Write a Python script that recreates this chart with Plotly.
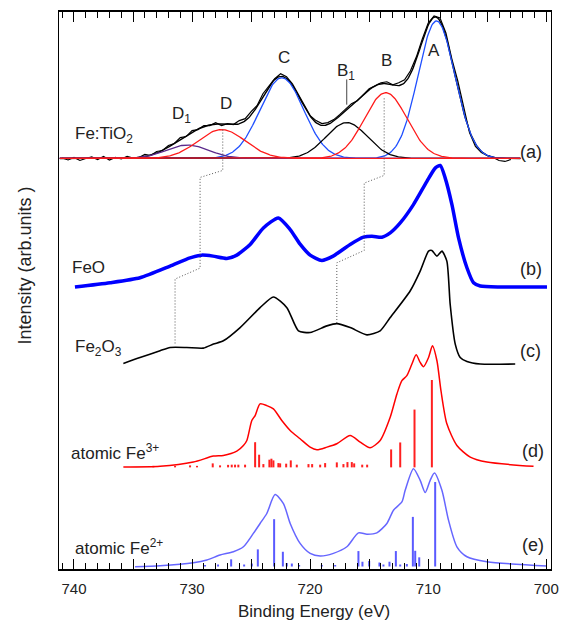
import numpy as np
import plotly.graph_objects as go

# ---------------- data (binding energy in eV, intensity in arb. units) ----------------
# (a) Fe:TiO2 experimental spectrum (baseline-subtracted height), offset below
a_offset = 412
a_E = [741.0, 740.5, 740.0, 739.5, 739.0, 738.5, 738.0, 737.5, 737.0, 736.5, 736.0, 735.5,
       735.0, 734.5, 734.0, 733.5, 733.0, 732.5, 732.0, 731.5, 731.0, 730.5, 730.0, 729.5,
       729.0, 728.5, 728.0, 727.5, 727.0, 726.5, 726.0, 725.5, 725.0, 724.5, 724.0, 723.5,
       723.0, 722.5, 722.0, 721.5, 721.0, 720.5, 720.0, 719.5, 719.0, 718.5, 718.0, 717.5,
       717.0, 716.5, 716.0, 715.5, 715.0, 714.5, 714.0, 713.5, 713.0, 712.5, 712.0, 711.5,
       711.0, 710.5, 710.0, 709.5, 709.0, 708.5, 708.0, 707.5, 707.0, 706.5, 706.0, 705.5,
       705.0, 704.5, 704.0, 703.5, 703.0]
a_I = [0.5, -1.5, 1, -2, 0, 1.5, -1, 2, -1.5, 1, -0.5, 2,
       0.5, 1, 4, 3, 7, 8, 13, 15, 21, 22, 28, 29,
       33, 33, 36, 33, 35, 34, 38, 40, 47, 53, 65, 72,
       80, 85, 82, 75, 64, 54, 43, 38, 35, 36, 39, 44,
       50, 55, 58, 64, 70, 73, 76, 77, 74, 76, 79, 88,
       102, 120, 136, 143, 141, 126, 100, 78, 52, 26, 12, 6,
       3, 1, -2, -3, -1]

# (a) fitted components
comp_names = ["A", "C", "B1", "D1", "B", "D"]
comp_center = [709.3, 722.4, 716.9, 730.4, 713.6, 727.5]
comp_height = [138, 81, 36, 13.5, 66, 29]
comp_sigma = [1.56, 1.85, 1.75, 1.8, 1.8, 2.0]
comp_color = ["#1f4fff", "#1f4fff", "#000000", "#5b2a8c", "#ff1a1a", "#ff1a1a"]
comp_range = (741.2, 702.2)

# (b) FeO
feo_E = [739.92, 736.95, 734.41, 731.86, 730.17, 729.18, 728.22, 727.06, 726.21, 725.08,
         723.96, 722.69, 721.69, 720.85, 720.0, 719.01, 718.05, 716.61, 715.48, 714.77,
         713.92, 713.22, 712.37, 711.25, 710.11, 709.41, 708.98, 708.56, 707.99, 707.43,
         706.72, 706.16, 705.59, 703.90, 699.94]
feo_I = [283, 287.3, 292.3, 304, 312.3, 315, 314, 311.7, 315, 325.7,
         342.3, 352.3, 340.7, 326, 315, 309.7, 314, 325.7, 333, 334,
         333, 337.3, 347.3, 365.7, 389, 402.3, 405, 392.3, 365.7, 332.3,
         302.3, 287.3, 284, 283, 283]

# (c) Fe2O3
fe2o3_E = [735.82, 734.41, 732.71, 731.86, 730.45, 729.04, 728.19, 727.35, 725.93, 724.24,
           723.11, 721.97, 720.99, 720.0, 718.58, 717.74, 716.61, 715.19, 714.07, 713.22,
           711.53, 710.68, 709.97, 709.69, 709.26, 708.84, 708.42, 708.14, 707.71, 707.29,
           706.72, 705.59, 702.63]
fe2o3_I = [206.3, 212.3, 219, 222.3, 222.3, 221.7, 225.7, 229, 242.3, 262.3,
           273, 262.3, 239, 237.3, 244, 246.3, 242.3, 235, 239, 252.3,
           279, 299, 319, 319.7, 314, 319, 309, 265.7, 225.7, 212.3,
           208.3, 205.7, 205.7]

# (d) atomic Fe3+ calculated spectrum
fe3_E = [735.82, 732.71, 729.89, 728.19, 727.35, 726.21, 725.65, 725.36, 724.94, 724.66,
         724.24, 723.67, 723.11, 722.40, 721.69, 720.85, 720.0, 719.43, 718.58, 717.74,
         716.61, 715.76, 714.92, 714.07, 713.22, 712.65, 712.23, 711.81, 711.38, 711.02,
         710.68, 710.40, 709.97, 709.64, 709.26, 708.92, 708.42, 707.57, 706.44, 705.03,
         701.08]
fe3_I = [102.3, 103, 107.3, 113.3, 114, 118.3, 124, 129, 149, 154,
         165.7, 164, 160.7, 149, 139, 130.7, 122.3, 119.7, 122.3, 125.7,
         134, 127.3, 121.7, 129, 152.3, 175.7, 189, 194, 205.7, 215,
         207.3, 203, 212.3, 224, 209, 179, 145.7, 124, 112.3, 107.3,
         103]
fe3_stick_base = 102
fe3_stick_E = [724.66, 724.32, 723.45, 723.28, 723.11, 722.69, 722.03, 721.64, 718.73, 716.84,
               716.47, 713.14, 712.37, 711.16, 709.69,
               733.28, 731.44, 730.17, 729.58, 728.25, 727.63, 726.95, 726.64, 726.36, 726.08,
               725.51, 723.96, 722.54, 721.13, 720.14, 719.83, 719.15, 717.74, 717.18, 716.27,
               715.59, 715.17]
fe3_stick_h = [25.3, 12.7, 7.7, 8.7, 7, 4.3, 3.7, 7, 4.3, 5.3,
               5.3, 18, 25, 58, 87.7,
               1.5, 1.5, 2, 1.5, 4, 2, 2.5, 2.7, 2.7, 2.7,
               2.7, 3.3, 4, 2.7, 3.3, 3.3, 2.7, 5, 3.3, 4,
               2.7, 2.7]

# (e) atomic Fe2+ calculated spectrum
fe2_E = [734.83, 732.71, 729.89, 728.75, 727.63, 726.50, 725.65, 724.81, 724.24, 723.67,
         722.97, 722.26, 721.69, 720.85, 720.0, 719.15, 718.03, 716.89, 715.91, 715.19,
         714.35, 713.50, 712.94, 712.23, 711.95, 711.25, 710.68, 710.25, 709.83, 709.47,
         708.84, 708.28, 707.57, 706.72, 705.03, 699.94]
fe2_I = [2.3, 3.3, 6.3, 9, 14, 17.3, 22.3, 35.7, 45.7, 55.7,
         74.7, 65.7, 45.7, 25.7, 15.7, 13, 15.7, 22.3, 36.3, 35,
         36.3, 45.7, 59, 67.3, 79, 100.7, 89, 76.7, 89, 96.3,
         79, 49, 22.3, 12.3, 7.3, 3]
fe2_stick_base = 2.5
fe2_stick_E = [726.69, 724.43, 723.05, 722.31, 715.91, 715.57, 715.0, 713.28, 712.74, 711.30,
               711.10, 710.76, 709.41,
               721.98, 721.55, 720.93, 719.01, 717.88, 714.13, 713.79, 712.37, 711.81, 724.94,
               725.59, 727.8, 728.9]
fe2_stick_h = [7.2, 17.2, 47.5, 14.8, 15.5, 4.8, 5.5, 4.8, 15.5, 49.8,
               15.8, 9.2, 84.8,
               3.5, 3, 1.5, 1.5, 1.5, 4, 2, 2, 2.5, 3,
               2, 2, 1.5]

# dotted guide lines following peaks D and B through the spectra
guideD_E = [727.4, 727.4, 729.32, 729.32, 731.44, 731.44]
guideD_I = [441, 400, 393, 302, 291, 226]
guideB_E = [713.73, 713.73, 715.42, 715.42, 717.74, 717.74]
guideB_I = [472.3, 395, 387.3, 319.7, 307.3, 246.3]

# peak labels of panel (a)
peak_text = ["A", "B", "B<sub>1</sub>", "C", "D", "D<sub>1</sub>"]
peak_E = [709.5, 713.56, 716.95, 722.25, 727.16, 730.9]
peak_I = [520, 510, 499, 513, 467.5, 456]
b1_mark_E = [716.9, 716.9]
b1_mark_I = [491.3, 466]

# spectrum names (left) and panel letters (right)
name_text = ["Fe:TiO<sub>2</sub>", "FeO", "Fe<sub>2</sub>O<sub>3</sub>",
             "atomic Fe<sup>3+</sup>", "atomic Fe<sup>2+</sup>"]
name_E = [740.1, 740.3, 740.1, 740.45, 740.1]
name_I = [436, 302.3, 222, 117, 22.3]
panel_text = ["(a)", "(b)", "(c)", "(d)", "(e)"]
panel_E = [702.4, 702.4, 702.4, 702.2, 702.2]
panel_I = [419, 301, 219, 118.3, 24]

label_ticks = [740, 730, 720, 710, 700]
mid_ticks = [735, 725, 715, 705]

# ---------------- figure ----------------
FONT = "Liberation Sans, Arial, Helvetica, sans-serif"
fig = go.Figure()

grid = np.linspace(comp_range[0], comp_range[1], 500)
comps = []
for c, h, s in zip(comp_center, comp_height, comp_sigma):
    comps.append(h * np.exp(-((grid - c) ** 2) / (2 * s * s)))
envelope = np.sum(comps, axis=0)

fig.add_trace(go.Scatter(x=a_E, y=np.array(a_I) + a_offset, mode="lines",
                         line=dict(color="black", width=1.2), showlegend=False))
fig.add_trace(go.Scatter(x=grid, y=envelope + a_offset, mode="lines",
                         line=dict(color="black", width=1.4), showlegend=False))
for comp, col in zip(comps, comp_color):
    fig.add_trace(go.Scatter(x=grid, y=comp + a_offset, mode="lines",
                             line=dict(color=col, width=1.3), showlegend=False))

fig.add_trace(go.Scatter(x=feo_E, y=feo_I, mode="lines",
                         line=dict(color="#0000ff", width=3.5, shape="spline", smoothing=0.6),
                         showlegend=False))
fig.add_trace(go.Scatter(x=fe2o3_E, y=fe2o3_I, mode="lines",
                         line=dict(color="black", width=1.6, shape="spline", smoothing=0.6),
                         showlegend=False))


def sticks(E, h, base):
    xs, ys = [], []
    for e, hh in zip(E, h):
        xs += [e, e, None]
        ys += [base, base + hh, None]
    return xs, ys


sx, sy = sticks(fe3_stick_E, fe3_stick_h, fe3_stick_base)
fig.add_trace(go.Scatter(x=sx, y=sy, mode="lines", line=dict(color="#ff2020", width=2), showlegend=False))
fig.add_trace(go.Scatter(x=fe3_E, y=fe3_I, mode="lines",
                         line=dict(color="#ff0000", width=1.5, shape="spline", smoothing=0.7),
                         showlegend=False))

sx, sy = sticks(fe2_stick_E, fe2_stick_h, fe2_stick_base)
fig.add_trace(go.Scatter(x=sx, y=sy, mode="lines", line=dict(color="#5a5aff", width=2), showlegend=False))
fig.add_trace(go.Scatter(x=fe2_E, y=fe2_I, mode="lines",
                         line=dict(color="#6666ff", width=1.5, shape="spline", smoothing=0.7),
                         showlegend=False))

for gE, gI in [(guideD_E, guideD_I), (guideB_E, guideB_I)]:
    fig.add_trace(go.Scatter(x=gE, y=gI, mode="lines",
                             line=dict(color="#555555", width=1, dash="1px,2px"), showlegend=False))
fig.add_trace(go.Scatter(x=b1_mark_E, y=b1_mark_I, mode="lines",
                         line=dict(color="#444444", width=1), showlegend=False))

annotations = []
for t, e, i in zip(peak_text, peak_E, peak_I):
    annotations.append(dict(x=e, y=i, xref="x", yref="y", text=t, showarrow=False,
                            xanchor="center", yanchor="middle",
                            font=dict(family=FONT, size=17, color="#222222")))
for t, e, i in zip(name_text, name_E, name_I):
    annotations.append(dict(x=e, y=i, xref="x", yref="y", text=t, showarrow=False,
                            xanchor="left", yanchor="middle",
                            font=dict(family=FONT, size=17, color="#222222")))
for t, e, i in zip(panel_text, panel_E, panel_I):
    annotations.append(dict(x=e, y=i, xref="x", yref="y", text=t, showarrow=False,
                            xanchor="left", yanchor="middle",
                            font=dict(family=FONT, size=18, color="#222222")))
annotations.append(dict(x=-0.069, y=0.545, xref="paper", yref="paper", text="Intensity (arb.units )",
                        textangle=-90, showarrow=False, xanchor="center", yanchor="middle",
                        font=dict(family=FONT, size=18, color="#222222")))
annotations.append(dict(x=0.518, y=-0.077, xref="paper", yref="paper", text="Binding Energy (eV)",
                        showarrow=False, xanchor="center", yanchor="middle",
                        font=dict(family=FONT, size=17, color="#222222")))

# page body has an 8px default margin: size the figure so the plot lands where the reference has it
XR = [741.27, 699.6]
fig.update_layout(
    width=559, height=615,
    margin=dict(l=51, r=16, t=2, b=54),
    plot_bgcolor="white", paper_bgcolor="white",
    annotations=annotations,
    xaxis=dict(range=XR, showgrid=False, zeroline=False,
               tickmode="array", tickvals=label_ticks,
               ticks="inside", ticklen=10, tickwidth=1.3, tickcolor="black",
               ticklabelstandoff=5,
               minor=dict(dtick=1, ticks="inside", ticklen=6, tickwidth=1, tickcolor="black"),
               showline=True, linecolor="black", linewidth=1.5, mirror="allticks",
               tickfont=dict(family=FONT, size=15, color="#222222")),
    xaxis2=dict(range=XR, overlaying="x", side="bottom", anchor="y", showgrid=False,
                zeroline=False, tickmode="array", tickvals=mid_ticks, showticklabels=False,
                ticks="inside", ticklen=10, tickwidth=1.3, tickcolor="black",
                showline=False, mirror="allticks"),
    yaxis=dict(range=[0, 559], showgrid=False, zeroline=False, showticklabels=False,
               ticks="", showline=True, linecolor="black", linewidth=1, mirror=True),
)
# invisible trace to activate the overlay tick axis
fig.add_trace(go.Scatter(x=[735], y=[-10], xaxis="x2", mode="markers",
                         marker=dict(opacity=0), showlegend=False, hoverinfo="skip"))

fig.write_html("out.html")
